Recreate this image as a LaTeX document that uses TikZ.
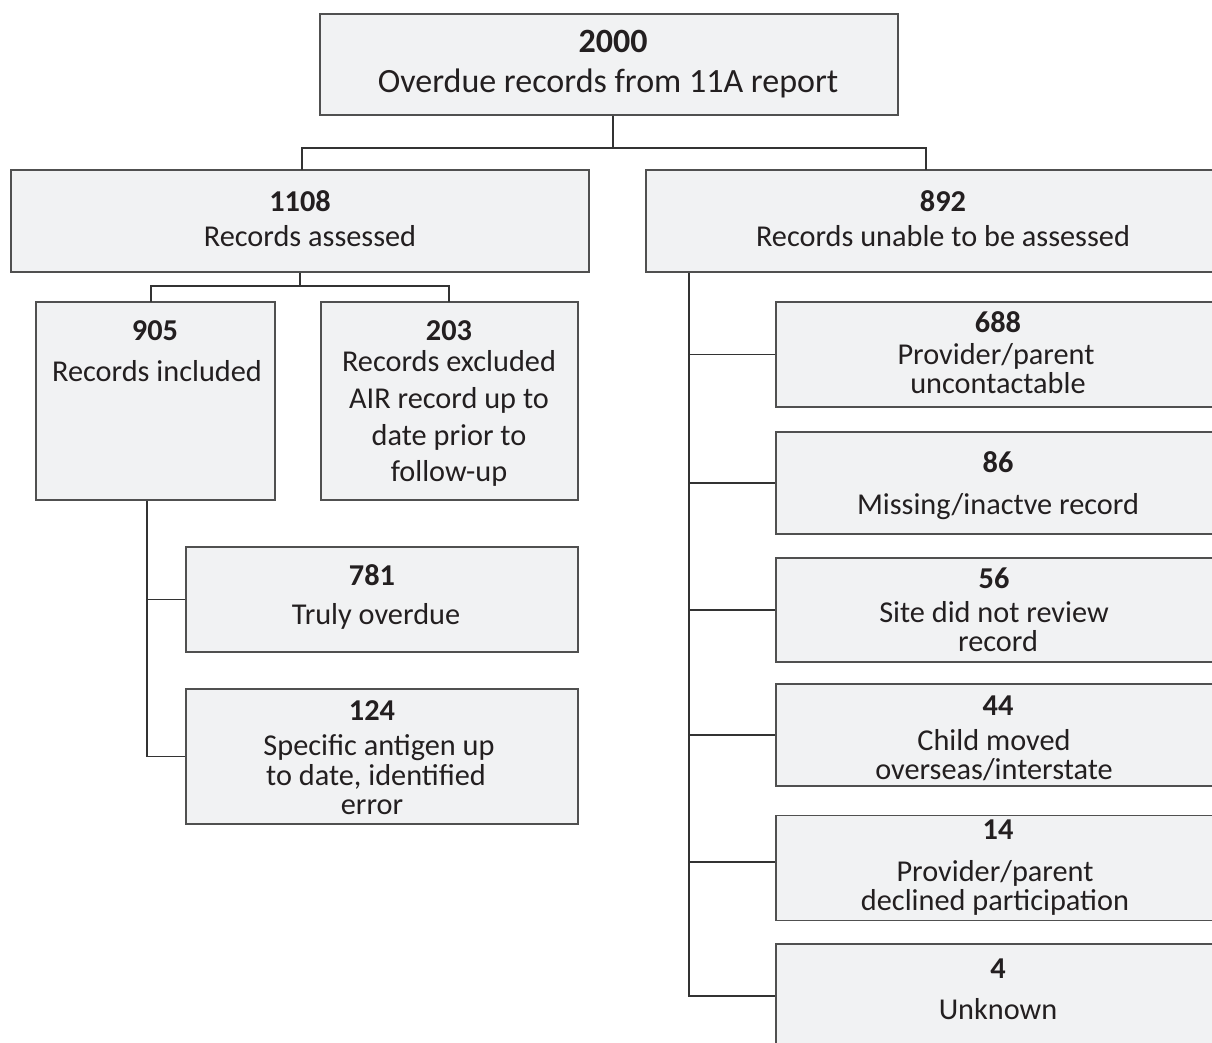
\documentclass[tikz,border=0pt]{standalone}
\usepackage{fontspec}
\setmainfont{Carlito}
\definecolor{boxfill}{HTML}{F1F2F3}
\definecolor{boxline}{HTML}{505050}
\definecolor{linecol}{HTML}{333333}
\definecolor{txt}{HTML}{231F20}
\tikzset{
  bx/.style={draw=boxline, fill=boxfill, line width=1.4pt, inner sep=0pt},
  tl/.style={text=txt, inner sep=0pt, text height=19.5pt, text depth=0pt, font=\fontsize{30.3}{36}\selectfont},
  tb/.style={tl, font=\fontsize{30.3}{36}\selectfont\bfseries},
  tlbig/.style={text=txt, inner sep=0pt, text height=21.8pt, text depth=0pt, font=\fontsize{34}{40}\selectfont},
  tbbig/.style={tlbig, font=\fontsize{34}{40}\selectfont\bfseries},
  conn/.style={draw=linecol, line width=1.4pt}
}
\begin{document}
\begin{tikzpicture}[x=1pt,y=-1pt]
\useasboundingbox (0,0) rectangle (1212,1043);
\clip (0,0) rectangle (1212,1043);
% boxes
\node[bx, minimum width=578pt, minimum height=101pt] (top) at (609,64.5) {};
\node[bx, minimum width=578pt, minimum height=102pt] (b1108) at (300,221) {};
\node[bx, minimum width=590pt, minimum height=102pt] (b892) at (941,221) {};
\node[bx, minimum width=239pt, minimum height=198pt] (b905) at (155.5,401) {};
\node[bx, minimum width=257pt, minimum height=198pt] (b203) at (449.5,401) {};
\node[bx, minimum width=392pt, minimum height=105pt] (b781) at (382,599.5) {};
\node[bx, minimum width=392pt, minimum height=135pt] (b124) at (382,756.5) {};
\node[bx, minimum width=450pt, minimum height=105pt] (b688) at (1001,354.5) {};
\node[bx, minimum width=450pt, minimum height=102pt] (b86) at (1001,483) {};
\node[bx, minimum width=450pt, minimum height=104pt] (b56) at (1001,610) {};
\node[bx, minimum width=450pt, minimum height=102pt] (b44) at (1001,735) {};
\node[bx, minimum width=450pt, minimum height=105pt] (b14) at (1001,868) {};
\node[bx, minimum width=450pt, minimum height=104pt] (b4) at (1001,996) {};
% texts
\node[tbbig] (t2000a) at (613,42) {2000};
\node[tlbig] (t2000b) at (608,82) {Overdue records from 11A report};
\node[tb] (t1108a) at (300,202) {1108};
\node[tl] (t1108b) at (310,237) {Records assessed};
\node[tb] (t892a) at (943,202) {892};
\node[tl] (t892b) at (943,237) {Records unable to be assessed};
\node[tb] (t905a) at (155,331) {905};
\node[tl] (t905b) at (157,372) {Records included};
\node[tb] (t203a) at (449,331) {203};
\node[tl] (t203b) at (449,362) {Records excluded};
\node[tl] (t203c) at (449,399) {AIR record up to};
\node[tl] (t203d) at (449,436) {date prior to};
\node[tl] (t203e) at (449,472) {follow-up};
\node[tb] (t781a) at (372,576) {781};
\node[tl] (t781b) at (376,615) {Truly overdue};
\node[tb] (t124a) at (372,711) {124};
\node[tl] (t124b) at (379,746) {Specific antigen up};
\node[tl] (t124c) at (376,776) {to date, identified};
\node[tl] (t124d) at (372,805) {error};
\node[tb] (t688a) at (998,323) {688};
\node[tl] (t688b) at (996,355) {Provider/parent};
\node[tl] (t688c) at (998,384) {uncontactable};
\node[tb] (t86a) at (998,463) {86};
\node[tl] (t86b) at (998,505) {Missing/inactve record};
\node[tb] (t56a) at (994,579) {56};
\node[tl] (t56b) at (994,613) {Site did not review};
\node[tl] (t56c) at (998,642) {record};
\node[tb] (t44a) at (998,706) {44};
\node[tl] (t44b) at (994,741) {Child moved};
\node[tl] (t44c) at (994,770) {overseas/interstate};
\node[tb] (t14a) at (998,830) {14};
\node[tl] (t14b) at (995,872) {Provider/parent};
\node[tl] (t14c) at (995,901) {declined participation};
\node[tb] (t4a) at (998,969) {4};
\node[tl] (t4b) at (998,1010) {Unknown};
% connector points
\coordinate (j1) at (613,148);
\coordinate (in1108) at (302,170);
\coordinate (in892) at (926,170);
\coordinate (j2) at (300,286);
\coordinate (in905) at (151,302);
\coordinate (in203) at (449,302);
\coordinate (sp1) at (147,0);
\coordinate (sp2) at (689,0);
% connectors
\draw[conn] (top.south -| j1) -- (j1);
\draw[conn] (in1108) -- (in1108 |- j1) -- (in892 |- j1) -- (in892);
\draw[conn] (b1108.south) -- (j2);
\draw[conn] (in905) -- (in905 |- j2) -- (in203 |- j2) -- (in203);
\draw[conn] (b905.south -| sp1) |- (b124.west);
\draw[conn] (b781.west -| sp1) -- (b781.west);
\draw[conn] (b892.south -| sp2) |- (b4.west);
\draw[conn] (b688.west -| sp2) -- (b688.west);
\draw[conn] (b86.west -| sp2) -- (b86.west);
\draw[conn] (b56.west -| sp2) -- (b56.west);
\draw[conn] (b44.west -| sp2) -- (b44.west);
\draw[conn] ([yshift=6pt]b14.west -| sp2) -- ([yshift=6pt]b14.west);
\end{tikzpicture}
\end{document}
